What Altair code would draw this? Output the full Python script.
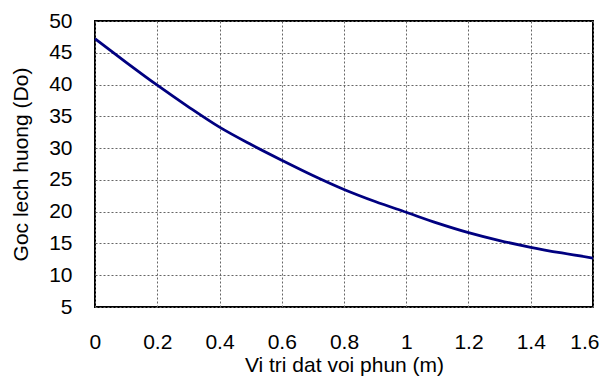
import altair as alt
import pandas as pd

x_vals = [0.0, 0.1, 0.2, 0.3, 0.4, 0.5, 0.6, 0.7, 0.8, 0.9, 1.0, 1.1, 1.2, 1.3, 1.4, 1.5, 1.6]
y_vals = [47.2, 43.5, 39.9, 36.5, 33.3, 30.6, 28.1, 25.7, 23.5, 21.6, 19.9, 18.2, 16.7, 15.45, 14.4, 13.5, 12.7]
x_ticks = [0, 0.2, 0.4, 0.6, 0.8, 1, 1.2, 1.4, 1.6]
y_ticks = [5, 10, 15, 20, 25, 30, 35, 40, 45, 50]

df = pd.DataFrame({"x": x_vals, "y": y_vals})

FONT = "Liberation Sans"

chart = alt.Chart(df).mark_line(
    color="#000080", strokeWidth=2.8, interpolate="monotone"
).encode(
    x=alt.X("x:Q",
            scale=alt.Scale(domain=[0, 1.6], nice=False, zero=False),
            axis=alt.Axis(values=x_ticks, format="~g", title="Vi tri dat voi phun (m)",
                          labelPadding=24, titlePadding=2,
                          labelFlush=True, labelFlushOffset=6)),
    y=alt.Y("y:Q",
            scale=alt.Scale(domain=[5, 50], nice=False, zero=False),
            axis=alt.Axis(values=y_ticks, title="Goc lech huong (Do)",
                          labelPadding=23, titlePadding=17, labelFlush=False)),
).properties(
    width=498, height=286,
    autosize=alt.AutoSizeParams(type="none"),
    padding={"left": 87, "top": 13, "right": 7, "bottom": 69},
).configure_view(
    stroke="black", strokeWidth=2
).configure_axis(
    ticks=False, domain=False,
    grid=True, gridColor="#666666", gridDash=[2, 2], gridWidth=1,
    labelFont=FONT, titleFont=FONT, labelFontSize=21, titleFontSize=21,
    labelColor="black", titleColor="black", titleFontWeight="normal",
)

chart.save("out.html", embed_options={"renderer": "svg", "actions": False})
